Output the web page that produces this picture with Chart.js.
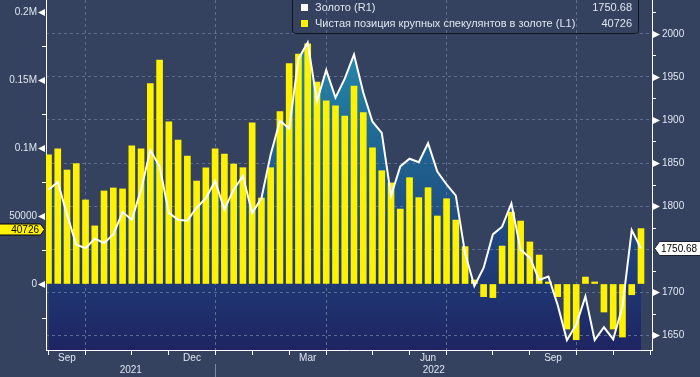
<!DOCTYPE html>
<html>
<head>
<meta charset="utf-8">
<script src="https://cdn.jsdelivr.net/npm/chart.js@4.4.0/dist/chart.umd.min.js"></script>
<style>
  html, body { margin: 0; padding: 0; background: #344260; }
  canvas { display: block; }
</style>
</head>
<body>
<canvas id="graficoOro" width="700" height="377"></canvas>
<script>
// Datos semanales (viernes), del 27 ago 2021 al 18 nov 2022
const primeraSemana = [2021, 7, 27];
const nombresSeries = ['Золото (R1)', 'Чистая позиция крупных спекулянтов в золоте (L1)'];

const netoEspeculantes = [
  94900, 99300, 83800, 88500, 61800, 42700, 68400, 70600, 69900, 101500,
  99300, 147300, 164700, 119300, 105900, 94100, 75700, 85400, 99300, 95600,
  88200, 85500, 118400, 63200, 85500, 126700, 162000, 169100, 176500, 148500,
  134600, 130900, 123500, 145600, 126000, 100200, 83300, 74300, 55100, 78200,
  63500, 70800, 50000, 62700, 47000, 27500, 2900, -9300, -10000, 27900,
  52900, 46300, 30900, 21300, 1500, -9300, -33100, -41000, 5100, 1500,
  -20600, -33100, -39000, -7900, 40726
];

const precioOro = [
  1819, 1828, 1790, 1755, 1751, 1762, 1757, 1767, 1793, 1784,
  1819, 1865, 1846, 1792, 1784, 1783, 1798, 1809, 1829, 1796,
  1819, 1835, 1792, 1809, 1860, 1899, 1890, 1971, 1990, 1922,
  1958, 1926, 1948, 1976, 1932, 1898, 1885, 1812, 1846, 1855,
  1851, 1873, 1840, 1825, 1812, 1745, 1707, 1728, 1767, 1776,
  1803, 1749, 1740, 1714, 1718, 1685, 1644, 1662, 1695, 1644,
  1659, 1645, 1683, 1772, 1750.68
];

const ticksIzq = [0, 50000, 100000, 150000, 200000];
const etiquetasIzq = ['0', '50000', '0.1M', '0.15M', '0.2M'];
const ticksDer = [1650, 1700, 1750, 1800, 1850, 1900, 1950, 2000];
const nombresMes = ['Jan', 'Feb', 'Mar', 'Apr', 'May', 'Jun', 'Jul', 'Aug', 'Sep', 'Oct', 'Nov', 'Dec'];

const colorTexto = '#dfe6f1';
const colorRejilla = '#5d6f90';
const fuente = "'Liberation Sans', Arial, sans-serif";

// fechas de cada semana (una extra al final para el ultimo tick)
const semanas = [];
for (let i = 0; i <= netoEspeculantes.length; i++) {
  semanas.push(new Date(Date.UTC(primeraSemana[0], primeraSemana[1], primeraSemana[2] + 7 * i)));
}
const mesDe = i => new Date(semanas[i].getTime() + 7 * 864e5).getUTCMonth() !== semanas[i].getUTCMonth();

// ticks en el ultimo viernes de cada mes
const finesDeMes = [];
semanas.forEach((d, i) => { if (mesDe(i)) finesDeMes.push(i); });
const trimestres = finesDeMes.filter(i => [2, 5, 8, 11].includes(semanas[i].getUTCMonth()));
const etiquetasMes = [];
for (let k = 1; k < finesDeMes.length; k++) {
  const m = semanas[finesDeMes[k]].getUTCMonth();
  if ([2, 5, 8, 11].includes(m)) etiquetasMes.push({ pos: (finesDeMes[k - 1] + finesDeMes[k]) / 2, texto: nombresMes[m] });
}
const corteAnio = finesDeMes.find(i => semanas[i].getUTCMonth() === 11);
const anios = [semanas[0].getUTCFullYear(), semanas[corteAnio + 1].getUTCFullYear()];

// sin relleno extra alrededor del area del grafico
const sinPadding = s => { s.paddingTop = 0; s.paddingBottom = 0; s.paddingLeft = 0; s.paddingRight = 0; };

const decoraciones = {
  id: 'decoraciones',
  afterDraw(chart) {
    const c = chart.ctx;
    const area = chart.chartArea;
    const sx = chart.scales.x, sy = chart.scales.y, sy1 = chart.scales.y1;
    c.save();
    c.fillStyle = '#ffffff';
    c.strokeStyle = '#ffffff';
    c.lineWidth = 1;

    // marcas eje izquierdo
    for (let v = -25000; v <= 200000; v += 25000) {
      const py = Math.round(sy.getPixelForValue(v)) + 0.5;
      if (v % 50000 === 0) {
        c.beginPath();
        c.moveTo(area.left - 1, py - 3.5);
        c.lineTo(area.left - 1, py + 3.5);
        c.lineTo(area.left - 8, py);
        c.closePath();
        c.fill();
      } else {
        c.beginPath(); c.moveTo(area.left - 4, py); c.lineTo(area.left, py); c.stroke();
      }
    }
    // marcas eje derecho
    for (let v = 1625; v <= 2025; v += 25) {
      const py = Math.round(sy1.getPixelForValue(v)) + 0.5;
      if (py < area.top || py > area.bottom) continue;
      if (v % 50 === 0) {
        if (v === 1750) continue;
        c.beginPath();
        c.moveTo(area.right + 1, py - 3.5);
        c.lineTo(area.right + 1, py + 3.5);
        c.lineTo(area.right + 8, py);
        c.closePath();
        c.fill();
      } else {
        c.beginPath(); c.moveTo(area.right, py); c.lineTo(area.right + 4, py); c.stroke();
      }
    }

    // etiquetas de meses y anios
    c.fillStyle = colorTexto;
    c.font = '10px ' + fuente;
    c.textAlign = 'center';
    c.textBaseline = 'middle';
    etiquetasMes.forEach(m => c.fillText(m.texto, sx.getPixelForValue(m.pos), 358));
    const xDiv = Math.round(sx.getPixelForValue(corteAnio)) + 0.5;
    c.fillText(String(anios[0]), (area.left + xDiv) / 2, 370);
    c.fillText(String(anios[1]), (xDiv + area.right) / 2, 370);
    c.strokeStyle = '#7d8aa3';
    c.beginPath(); c.moveTo(xDiv, 364); c.lineTo(xDiv, 377); c.stroke();

    // leyenda
    c.strokeStyle = '#0d1220';
    c.beginPath();
    c.roundRect(292.5, -3.5, 346, 37, 3);
    c.stroke();
    c.fillStyle = '#ffffff';
    c.fillRect(301, 4, 7, 7);
    c.fillStyle = '#fff200';
    c.fillRect(301, 20, 7, 7);
    c.fillStyle = colorTexto;
    c.font = '11px ' + fuente;
    c.textAlign = 'left';
    c.fillText(nombresSeries[0], 315, 8);
    c.fillText(nombresSeries[1], 315, 24);
    c.textAlign = 'right';
    c.fillText(String(precioOro[precioOro.length - 1]), 632, 8);
    c.fillText(String(netoEspeculantes[netoEspeculantes.length - 1]), 632, 24);

    // etiqueta del ultimo valor (izquierda)
    const yIzq = Math.round(sy.getPixelForValue(netoEspeculantes[netoEspeculantes.length - 1])) + 0.5;
    c.beginPath();
    c.moveTo(-2, yIzq - 5.5);
    c.lineTo(40.5, yIzq - 5.5);
    c.lineTo(44.5, yIzq);
    c.lineTo(40.5, yIzq + 5.5);
    c.lineTo(-2, yIzq + 5.5);
    c.closePath();
    c.fillStyle = '#fff200';
    c.fill();
    c.strokeStyle = '#000000';
    c.stroke();
    c.fillStyle = '#000000';
    c.font = '10px ' + fuente;
    c.textAlign = 'right';
    c.fillText(String(netoEspeculantes[netoEspeculantes.length - 1]), 39, yIzq + 0.5);

    // etiqueta del ultimo valor (derecha)
    const yDer = Math.round(sy1.getPixelForValue(precioOro[precioOro.length - 1])) + 0.5;
    c.beginPath();
    c.moveTo(654.5, yDer);
    c.lineTo(659.5, yDer - 7);
    c.lineTo(701, yDer - 7);
    c.lineTo(701, yDer + 7);
    c.lineTo(659.5, yDer + 7);
    c.closePath();
    c.fillStyle = '#ffffff';
    c.fill();
    c.strokeStyle = '#1a2030';
    c.stroke();
    c.fillStyle = '#000000';
    c.textAlign = 'left';
    c.fillText(String(precioOro[precioOro.length - 1]), 661, yDer + 0.5);
    c.restore();
  }
};

const ctxOro = document.getElementById('graficoOro').getContext('2d');
const graficoOro = new Chart(ctxOro, {
  data: {
    datasets: [{
      type: 'line',
      label: nombresSeries[0],
      data: precioOro.map((v, i) => ({ x: i, y: v })),
      yAxisID: 'y1',
      borderColor: '#ffffff',
      borderWidth: 2,
      pointRadius: 0,
      tension: 0,
      fill: 'start',
      backgroundColor: (ctx) => {
        const a = ctx.chart.chartArea;
        if (!a) return '#1f4a80';
        const g = ctx.chart.ctx.createLinearGradient(0, a.top, 0, a.bottom);
        g.addColorStop(0, '#2798b8');
        g.addColorStop(0.15, '#2388aa');
        g.addColorStop(0.45, '#1f628f');
        g.addColorStop(0.75, '#1f3e79');
        g.addColorStop(1, '#1e2462');
        return g;
      },
      order: 0
    }, {
      type: 'bar',
      label: nombresSeries[1],
      data: netoEspeculantes.map((v, i) => ({ x: i, y: v })),
      yAxisID: 'y',
      backgroundColor: '#fff200',
      barThickness: 6,
      order: 1
    }]
  },
  options: {
    responsive: false,
    animation: false,
    layout: { padding: 0 },
    plugins: {
      legend: { display: false },
      tooltip: { enabled: false },
      filler: { drawTime: 'beforeDraw' }
    },
    scales: {
      x: {
        type: 'linear',
        min: -0.27,
        max: 65.19,
        offset: false,
        afterBuildTicks: s => { s.ticks = finesDeMes.map(v => ({ value: v })); },
        afterFit: s => { s.height = 27; sinPadding(s); },
        ticks: { display: false },
        grid: {
          offset: false,
          color: ctx => (ctx.tick && trimestres.includes(ctx.tick.value)) ? colorRejilla : 'rgba(0,0,0,0)',
          tickColor: '#ffffff',
          tickLength: 5
        },
        border: { color: '#ffffff', dash: [3, 3] }
      },
      y: {
        position: 'left',
        min: -48530,
        max: 208800,
        afterBuildTicks: s => { s.ticks = ticksIzq.map(v => ({ value: v })); },
        afterFit: s => { s.width = 46; sinPadding(s); },
        ticks: {
          color: colorTexto,
          font: { family: fuente, size: 10 },
          padding: 9,
          callback: v => etiquetasIzq[ticksIzq.indexOf(v)]
        },
        grid: { drawOnChartArea: false, drawTicks: false },
        border: { color: '#ffffff' }
      },
      y1: {
        position: 'right',
        min: 1632.6,
        max: 2039.5,
        afterBuildTicks: s => { s.ticks = ticksDer.map(v => ({ value: v })); },
        afterFit: s => { s.width = 48; sinPadding(s); },
        ticks: {
          color: colorTexto,
          font: { family: fuente, size: 10 },
          padding: 10,
          callback: v => v === 1750 ? '' : String(v)
        },
        grid: { drawTicks: false, color: colorRejilla },
        border: { color: '#ffffff', dash: [3, 3] }
      }
    }
  },
  plugins: [decoraciones]
});
</script>
</body>
</html>
